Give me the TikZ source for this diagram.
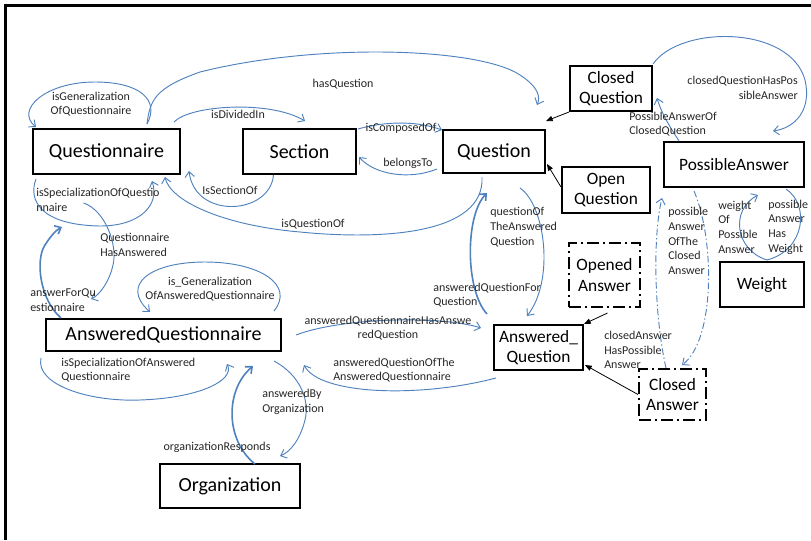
\documentclass[tikz,border=0pt]{standalone}
\usepackage{fontspec}
\setmainfont{Carlito}
\usetikzlibrary{arrows.meta,calc}
\definecolor{relblue}{RGB}{79,129,189}
\tikzset{
    box/.style={draw, line width=1.5pt, inner sep=0pt, align=center, font=\fontsize{15}{18}\selectfont},
    smallbox/.style={box, font=\fontsize{13}{15.5}\selectfont},
    dashbox/.style={smallbox, dash pattern=on 9pt off 3pt on 1.5pt off 3pt},
    rel/.style={draw=relblue, line width=0.7pt, -{Straight Barb[length=4pt,width=7pt]}},
    thickrel/.style={rel, line width=1.2pt},
    dotrel/.style={rel, dash pattern=on 5pt off 2pt on 1pt off 2pt},
    isa/.style={draw=black, line width=0.6pt, -{Triangle[length=5pt,width=4pt]}},
    lbl/.style={inner sep=0pt, font=\fontsize{9}{11}\selectfont, text=black!85},
}
\begin{document}
\begin{tikzpicture}[x=0.75pt, y=-0.75pt]
        \useasboundingbox (0,0) rectangle (811,540);

        %%%%%%%%% Cornice %%%%%%%%%
        \draw[line width=2.25pt, line join=miter] (5,540) -- (5,5) -- (811,5);

        %%%%%%%%% Classi %%%%%%%%%%
        \node[box, minimum width=110.25pt, minimum height=33.75pt] (questionnaire) at (106.5,151.5) {Questionnaire};
        \node[box, minimum width=84.75pt, minimum height=33.75pt] (section) at (299.5,151.5) {Section};
        \node[box, minimum width=76.5pt, minimum height=32.25pt] (question) at (494,151.5) {Question};
        \node[smallbox, minimum width=61.5pt, minimum height=33.75pt] (closedq) at (611,88.5) {Closed\\Question};
        \node[smallbox, minimum width=66pt, minimum height=34.5pt] (openq) at (606,190) {Open\\Question};
        \node[smallbox, minimum width=105pt, minimum height=33.75pt] (possible) at (734,164.5) {PossibleAnswer};
        \node[smallbox, minimum width=63pt, minimum height=33.75pt] (weight) at (762,284.5) {Weight};
        \node[dashbox, minimum width=53.25pt, minimum height=48pt] (openedans) at (604.5,275) {Opened\\Answer};
        \node[dashbox, minimum width=50.25pt, minimum height=38.25pt] (closedans) at (672.5,394.5) {Closed\\Answer};
        \node[smallbox, minimum width=66.75pt, minimum height=33.75pt] (ansq) at (538.5,347.5) {Answered\_\\Question};
        \node[box, minimum width=176.25pt, minimum height=24pt] (ansqnaire) at (163.5,335) {AnsweredQuestionnaire};
        \node[box, minimum width=105pt, minimum height=33pt] (org) at (230,486) {Organization};

        %%%%%%%%% Ereditarieta %%%%%%%%%
        \draw[isa] (closedq.south west) -- ($(question.north east)+(0,-8)$);
        \draw[isa] ($(openq.west)+(0,-3)$) -- ($(question.south east)+(1,-10)$);
        \draw[isa] ($(openedans.south)+(3,5)$) -- (ansq.north east);
        \draw[isa] (closedans.west) -- ($(ansq.south east)+(1,-6)$);

        %%%%%%%%% Questionario %%%%%%%%%
        \draw[rel] ($(questionnaire.north)+(40.5,-4)$) .. controls (160,100) and (140,82) .. (95,82)
            .. controls (45,82) and (15,110) .. ($(questionnaire.north west)+(4,-1)$);
        \draw[rel] ($(questionnaire.north)+(40.5,-4)$) .. controls (150,100) and (155,88) .. (200,72)
            .. controls (320,42) and (480,48) .. (520,75) .. controls (540,88) and (540,98) .. ($(question.north)+(43,-24)$);
        \draw[rel] ($(questionnaire.north east)+(-7,-6)$) .. controls (190,105) and (270,100) .. ($(section.north)+(5.5,-7)$);
        \draw[rel] ($(section.south)+(-26,0)$) .. controls (270,215) and (195,220) .. ($(questionnaire.south east)+(8,-4)$);
        \draw[rel] ($(question.south)+(-12,3)$) .. controls (485,235) and (380,240) .. (300,232)
            .. controls (220,225) and (170,200) .. ($(questionnaire.south)+(58.5,2)$);
        \draw[rel] ($(section.north east)+(1,1)$) .. controls (390,120) and (420,122) .. ($(question.north west)+(0,1)$);
        \draw[rel] ($(question.south west)+(-5,-5)$) .. controls (410,180) and (375,175) .. ($(section.east)+(2,5.5)$);
        \draw[rel] ($(questionnaire.south west)+(4,4)$) .. controls (28,200) and (40,225) .. (100,226)
            .. controls (140,226) and (160,205) .. ($(questionnaire.south)+(45.5,6)$);
        \draw[rel] ($(questionnaire.south)+(-23,28)$) .. controls (105,210) and (118,245) .. (113,265)
            .. controls (110,280) and (100,295) .. ($(ansqnaire.north west)+(46,-19)$);
        \draw[thickrel] ($(ansqnaire.north west)+(16,0)$) .. controls (40,300) and (35,260) .. (45,245)
            .. controls (50,237) and (56,230) .. ($(questionnaire.south west)+(30,52)$);

        %%%%%%%%% Questionario risposto %%%%%%%%%
        \draw[rel] ($(ansqnaire.north east)+(-8,-7)$) .. controls (295,285) and (260,262) .. (205,262)
            .. controls (150,262) and (120,285) .. ($(ansqnaire.north)+(-13.5,-6)$);
        \draw[rel] ($(ansqnaire.south west)+(-4,6)$) .. controls (35,385) and (90,402) .. (140,400)
            .. controls (200,398) and (235,380) .. ($(ansqnaire.south)+(63.5,12)$);
        \draw[rel] ($(ansqnaire.south east)+(-8,9)$) .. controls (300,375) and (310,400) .. (305,420)
            .. controls (300,440) and (290,452) .. ($(org.north)+(50,-7)$);
        \draw[thickrel] ($(org.north)+(25,1)$) .. controls (225,440) and (225,390) .. ($(ansqnaire.south)+(89.5,14)$);
        \draw[rel] ($(ansqnaire.east)+(14,0)$) .. controls (340,318) and (440,315) .. ($(ansq.west)+(-12,-19.5)$);
        \draw[rel] ($(ansq.south west)+(3,7)$) .. controls (420,398) and (320,395) .. ($(ansqnaire.east)+(22,30)$);

        %%%%%%%%% Domanda risposta %%%%%%%%%
        \draw[rel] ($(question.south)+(26,14)$) .. controls (545,205) and (555,280) .. ($(ansq.north)+(-11.5,-8)$);
        \draw[thickrel] ($(ansq.north west)+(-6,-10)$) .. controls (465,290) and (465,215) .. ($(question.south)+(-7,19)$);

        %%%%%%%%% Risposte possibili %%%%%%%%%
        \draw[rel] ($(closedq.north east)+(0,-1)$) .. controls (680,25) and (790,25) .. (805,80)
            .. controls (812,110) and (795,128) .. ($(possible.north)+(39,-10)$);
        \draw[rel] ($(possible.north west)+(16,0)$) .. controls (672,130) and (662,115) .. ($(closedq.east)+(4,9.5)$);
        \draw[dotrel] ($(closedans.north west)+(28,0)$) .. controls (655,320) and (652,240) .. ($(possible.south west)+(-1,10)$);
        \draw[dotrel] ($(possible.south west)+(31,3)$) .. controls (715,240) and (715,340) .. ($(closedans.north)+(9.5,-3)$);
        \draw[rel] ($(weight.north)+(5,-1)$) .. controls (735,250) and (730,210) .. ($(possible.south)+(24,7)$);
        \draw[rel, -] ($(possible.south east)+(-19,1)$) .. controls (810,205) and (805,250) .. ($(weight.north)+(5,-1)$);

        %%%%%%%%% Etichette %%%%%%%%%
        \node[lbl, align=center] (lgenq) at (91,104) {isGeneralization\\OfQuestionnaire};
        \node[lbl] (lhasq) at (343,84) {hasQuestion};
        \node[lbl] (ldiv) at (238,114) {isDividedIn};
        \node[lbl] (lsecof) at (230,190) {IsSectionOf};
        \node[lbl] (lqof) at (313,224) {isQuestionOf};
        \node[lbl] (lcomp) at (401,128) {isComposedOf};
        \node[lbl] (lbel) at (408,163) {belongsTo};
        \node[lbl, align=left, anchor=west] (lspecq) at (36,200) {isSpecializationOfQuestio\\nnaire};
        \node[lbl, align=left, anchor=west] (lhasans) at (100,245) {Questionnaire\\HasAnswered};
        \node[lbl, align=left, anchor=west] (lansfor) at (30,300) {answerForQu\\estionnaire};
        \node[lbl, align=center] (lgenaq) at (210,289) {is\_Generalization\\OfAnsweredQuestionnaire};
        \node[lbl, align=left, anchor=west] (lspecaq) at (61,370) {isSpecializationOfAnswered\\Questionnaire};
        \node[lbl, align=left, anchor=west] (lansby) at (262,402) {answeredBy\\Organization};
        \node[lbl] (lresp) at (217,447) {organizationResponds};
        \node[lbl, align=center] (laqhas) at (388,328) {answeredQuestionnaireHasAnswe\\redQuestion};
        \node[lbl, align=left, anchor=west] (laqof) at (333,370) {answeredQuestionOfThe\\AnsweredQuestionnaire};
        \node[lbl, align=left, anchor=west] (lqofaq) at (490,227) {questionOf\\TheAnswered\\Question};
        \node[lbl, align=left, anchor=west] (laqfor) at (433,295) {answeredQuestionFor\\Question};
        \node[lbl, align=right, anchor=east] (lcqhas) at (798,88) {closedQuestionHasPos\\sibleAnswer};
        \node[lbl, align=left, anchor=west] (lpaof) at (629,124) {PossibleAnswerOf\\ClosedQuestion};
        \node[lbl, align=left, anchor=west] (lpaofca) at (668,241) {possible\\Answer\\OfThe\\Closed\\Answer};
        \node[lbl, align=left, anchor=west] (lcahas) at (604,350) {closedAnswer\\HasPossible\\Answer};
        \node[lbl, align=left, anchor=west] (lwof) at (718,227) {weight\\Of\\Possible\\Answer};
        \node[lbl, align=left, anchor=west] (lpahas) at (768,227) {possible\\Answer\\Has\\Weight};
\end{tikzpicture}
\end{document}
